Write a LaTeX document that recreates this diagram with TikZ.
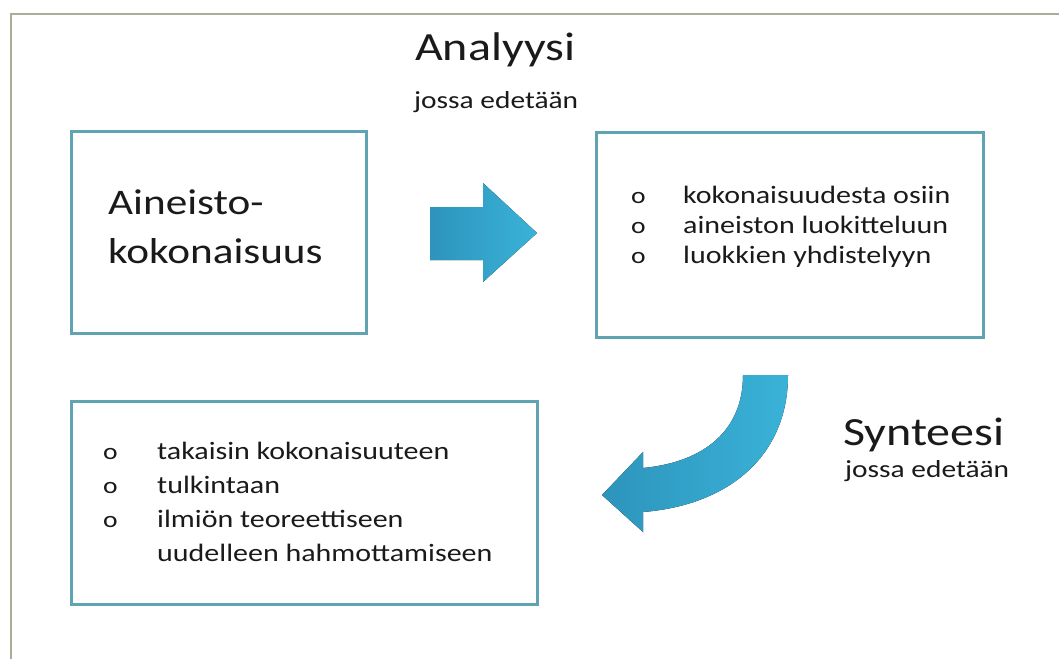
\documentclass[tikz,border=0pt]{standalone}
\usepackage{fontspec}
\setmainfont{Carlito}[FakeStretch=1.2]
\definecolor{boxline}{HTML}{60A4B3}
\definecolor{frameline}{HTML}{ABAE97}
\definecolor{arrowlight}{HTML}{3AB2D8}
\definecolor{arrowdark}{HTML}{2D94BC}
\definecolor{txt}{HTML}{1A1A1A}
\tikzset{
  panel/.style={draw=boxline, line width=3pt, fill=white, inner sep=0pt, anchor=north west},
  bigtext/.style={anchor=base west, inner sep=0pt, text=txt, font=\fontsize{36}{40}\selectfont},
  headtext/.style={anchor=base west, inner sep=0pt, text=txt, font=\fontsize{40}{44}\selectfont},
  subtext/.style={anchor=base west, inner sep=0pt, text=txt, font=\fontsize{24.5}{28}\selectfont},
  itemtext/.style={anchor=base west, inner sep=0pt, text=txt, font=\fontsize{25}{30}\selectfont},
  bulletmark/.style={anchor=base west, inner sep=0pt, text=txt, font=\fontsize{23}{30}\selectfont},
  blockarrow/.style={left color=arrowdark, right color=arrowlight, draw=none}
}
\begin{document}
\begin{tikzpicture}[x=1pt, y=-1pt]
\useasboundingbox (0,0) rectangle (1059,659);
\fill[white] (0,0) rectangle (1059,659);
% outer frame
\draw[frameline, line width=1.5pt] (11,659) -- (11,14) -- (1059,14);

% boxes
\node[panel, minimum width=295pt, minimum height=202pt] (b1) at (70,130) {};
\node[panel, minimum width=387pt, minimum height=205pt] (b2) at (595,131) {};
\node[panel, minimum width=466pt, minimum height=203pt] (b3) at (70,400) {};

% titles
\node[headtext] (t1) at (415,60) {Analyysi};
\node[subtext] (t1s) at (414,108) {jossa edetään};
\node[headtext] (t2) at (843,445) {Synteesi};
\node[subtext] (t2s) at (845,477) {jossa edetään};

% box 1 text
\node[bigtext] (a1) at (108,214) {Aineisto-};
\node[bigtext] (a2) at (108,263) {kokonaisuus};

% box 2 items
\node[bulletmark] (o1) at (631,203) {o};
\node[bulletmark] (o2) at (631,233) {o};
\node[bulletmark] (o3) at (631,263) {o};
\node[itemtext] (i1) at (683,203) {kokonaisuudesta osiin};
\node[itemtext] (i2) at (683,233) {aineiston luokitteluun};
\node[itemtext] (i3) at (683,263) {luokkien yhdistelyyn};

% box 3 items
\node[bulletmark] (p1) at (103,459) {o};
\node[bulletmark] (p2) at (103,493) {o};
\node[bulletmark] (p3) at (103,527) {o};
\node[itemtext] (j1) at (157,459) {takaisin kokonaisuuteen};
\node[itemtext] (j2) at (157,493) {tulkintaan};
\node[itemtext] (j3) at (157,527) {ilmiön teoreettiseen};
\node[itemtext] (j4) at (157,561) {uudelleen hahmottamiseen};

% straight block arrow
\fill[blockarrow] (430,207) -- (483,207) -- (483,183) -- (537,233) -- (483,282) -- (483,260) -- (430,260) -- cycle;

% curved block arrow
\fill[blockarrow] (743,375) .. controls (743,430) and (705,462) .. (643,468)
  -- (643,452) -- (602,495) -- (643,532) -- (643,512)
  .. controls (730,505) and (788,455) .. (788,375) -- cycle;
\end{tikzpicture}
\end{document}
